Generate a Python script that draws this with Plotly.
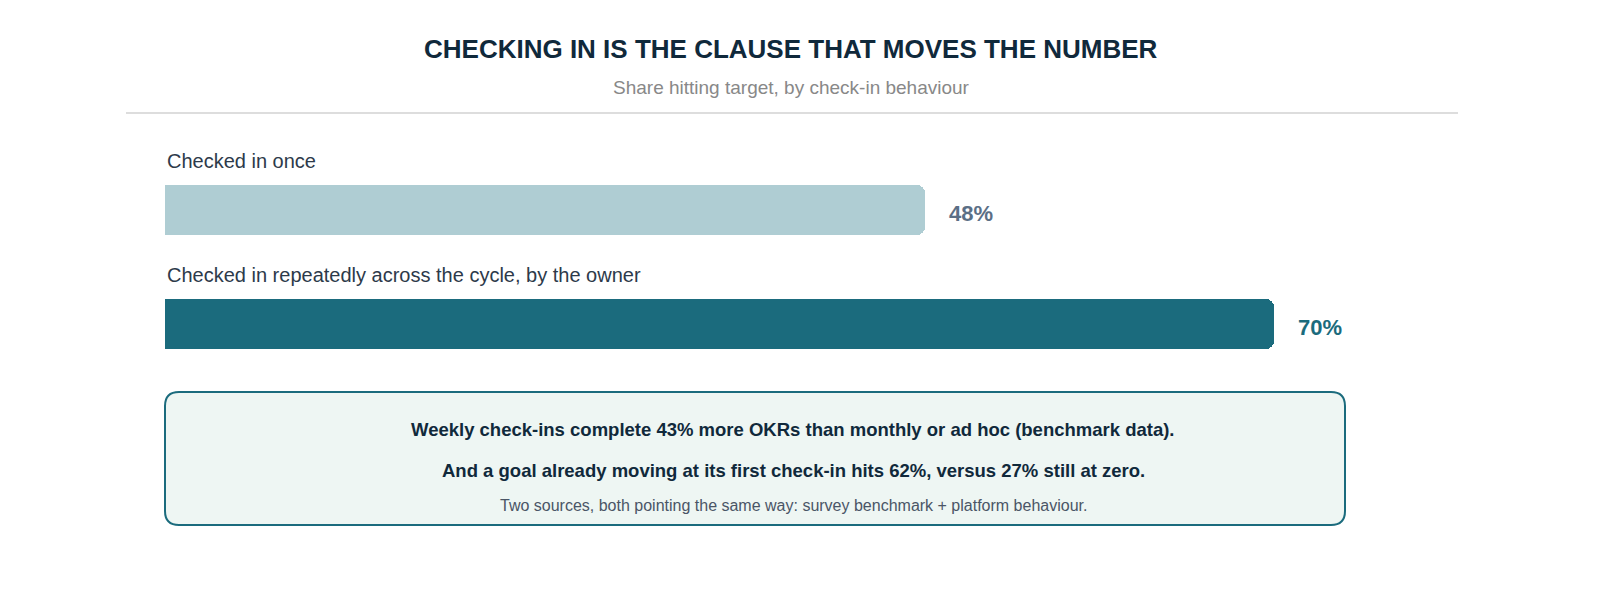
import plotly.graph_objects as go

categories = ["Checked in once", "Checked in repeatedly across the cycle, by the owner"]
values = [48, 70]
bar_colors = ["#afcdd3", "#1b6b7d"]
label_colors = ["#5b6f86", "#1b6b7d"]
title = "CHECKING IN IS THE CLAUSE THAT MOVES THE NUMBER"
subtitle = "Share hitting target, by check-in behaviour"
note_lines = [
    "Weekly check-ins complete 43% more OKRs than monthly or ad hoc (benchmark data).",
    "And a goal already moving at its first check-in hits 62%, versus 27% still at zero.",
]
note_small = "Two sources, both pointing the same way: survey benchmark + platform behaviour."

W, H = 1600, 600
x0px = 157
px_per_pct = 15.84
bar_y = [202, 316]

fig = go.Figure()
for cat, v, c, yc in zip(categories, values, bar_colors, bar_y):
    fig.add_trace(go.Bar(x=[v], y=[yc], orientation="h", width=50,
                         marker=dict(color=c, cornerradius=8, line_width=0),
                         hoverinfo="skip", showlegend=False))

ann = [
    dict(text=f"<b>{title}</b>", x=783 / W, y=41, xref="paper", yref="y", showarrow=False,
         font=dict(size=26, color="#10293b", family="Liberation Sans")),
    dict(text=subtitle, x=783 / W, y=79, xref="paper", yref="y", showarrow=False,
         font=dict(size=19, color="#888888", family="Liberation Sans")),
]
for cat, v, lc, yc in zip(categories, values, label_colors, bar_y):
    ann.append(dict(text=cat, x=0, y=yc - 49, xref="x", yref="y", xanchor="left",
                    showarrow=False, font=dict(size=20, color="#2d3a4a", family="Liberation Sans")))
    ann.append(dict(text=f"<b>{v}%</b>", x=v, y=yc + 3, xref="x", yref="y", xanchor="left",
                    xshift=22, showarrow=False, font=dict(size=22, color=lc, family="Liberation Sans")))
for t, yy in zip(note_lines, [421, 462]):
    ann.append(dict(text=f"<b>{t}</b>", x=785 / W, y=yy, xref="paper", yref="y", showarrow=False,
                    font=dict(size=18.5, color="#10293b", family="Liberation Sans")))
ann.append(dict(text=note_small, x=785 / W, y=497, xref="paper", yref="y", showarrow=False,
                font=dict(size=16, color="#4a5566", family="Liberation Sans")))


def rounded(x1, y1, x2, y2, r):
    a, b, c, d = x1 / W, x2 / W, r / W, r
    return (f"M {a + c} {y1} L {b - c} {y1} Q {b} {y1} {b} {y1 + d} L {b} {y2 - d} "
            f"Q {b} {y2} {b - c} {y2} L {a + c} {y2} Q {a} {y2} {a} {y2 - d} "
            f"L {a} {y1 + d} Q {a} {y1} {a + c} {y1} Z")


shapes = [
    dict(type="line", xref="paper", yref="y", x0=118 / W, x1=1450 / W, y0=105, y1=105,
         line=dict(color="#dddddd", width=2)),
    dict(type="path", xref="paper", yref="y", path=rounded(157, 384, 1337, 517, 14),
         fillcolor="#eef6f3", line=dict(color="#1b6b7d", width=2), layer="below"),
]

fig.update_layout(
    width=W, height=H, margin=dict(l=0, r=0, t=0, b=0),
    plot_bgcolor="white", paper_bgcolor="white",
    xaxis=dict(domain=[x0px / W, 1], range=[0, (W - x0px) / px_per_pct], visible=False),
    yaxis=dict(range=[H, 0], visible=False),
    annotations=ann, shapes=shapes, bargap=0,
)
fig.write_html("out.html")
